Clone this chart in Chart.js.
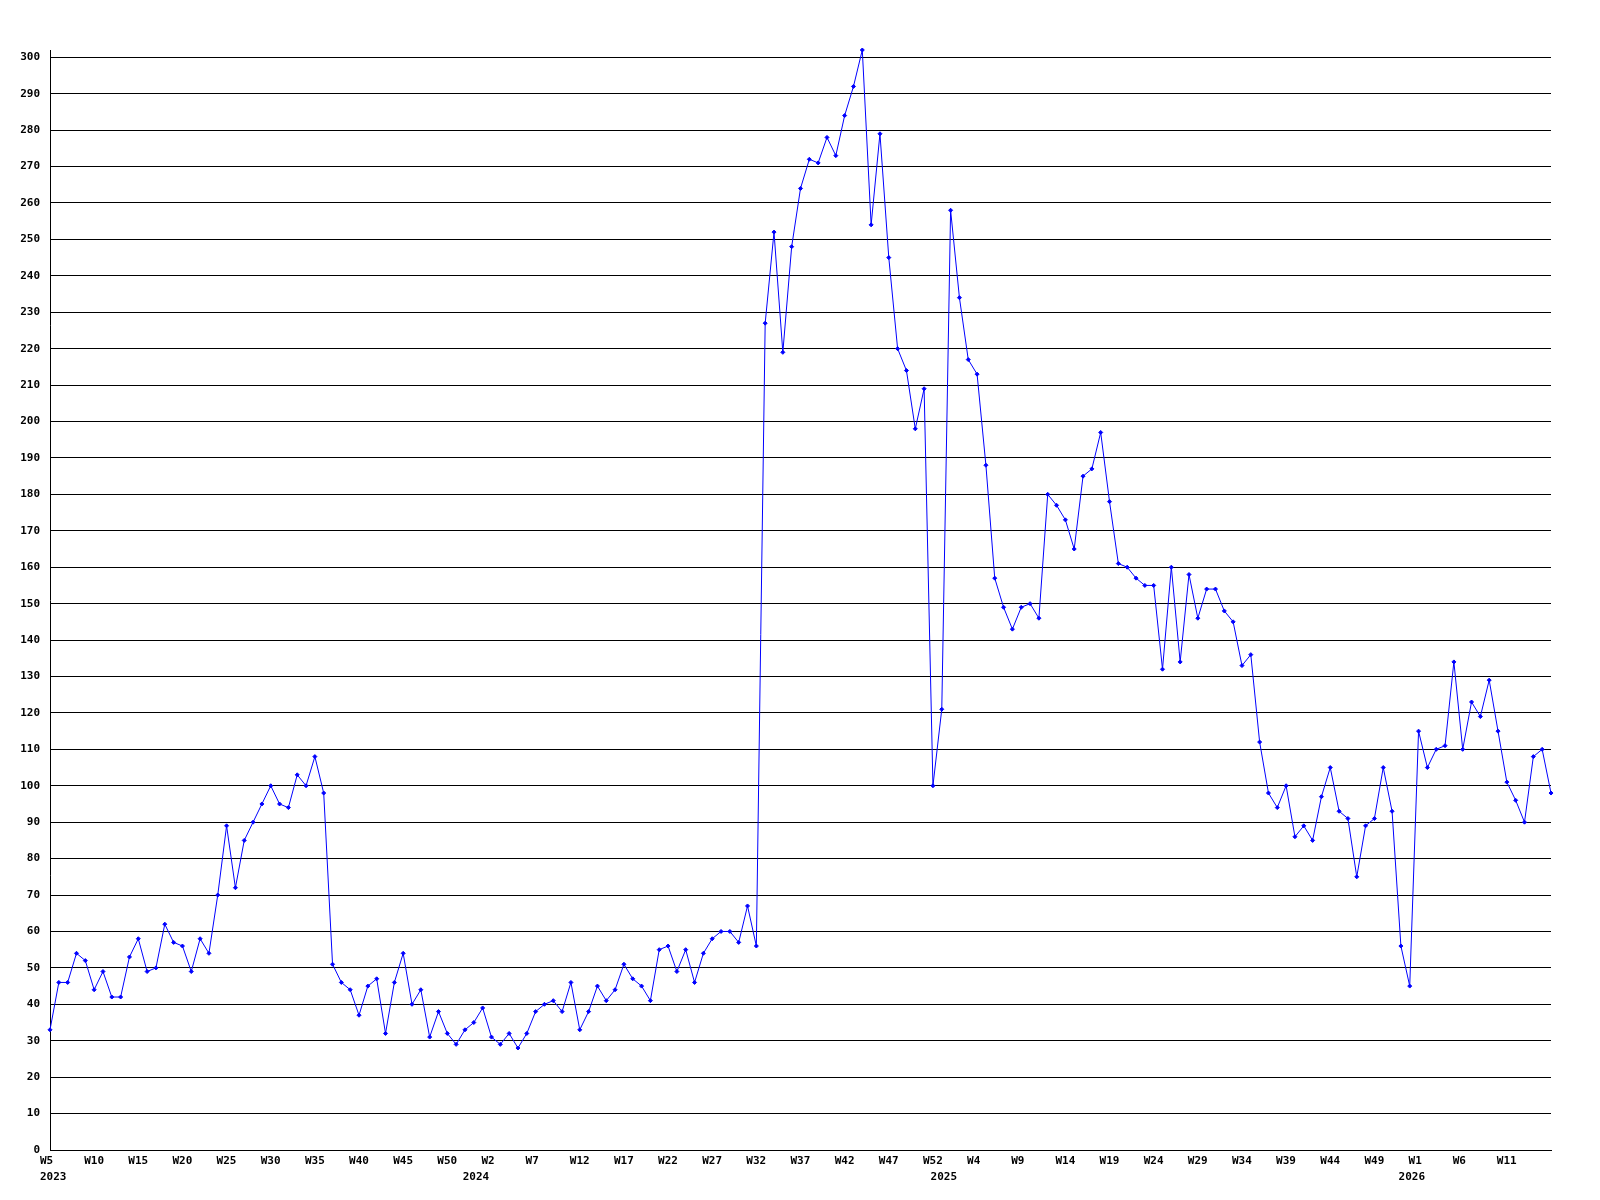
<!DOCTYPE html>
<html>
<head>
<meta charset="utf-8">
<script src="https://cdn.jsdelivr.net/npm/chart.js@4.4.1/dist/chart.umd.min.js"></script>
<style>
  html, body { margin: 0; padding: 0; background: #fff; }
  canvas { display: block; }
</style>
</head>
<body>
<canvas id="grafico" width="1600" height="1200"></canvas>
<script>
// weeks shown per year: [year, first week, last week]
const yearRanges = [[2023, 5, 53], [2024, 1, 53], [2025, 1, 53], [2026, 1, 16]];

// weekly values, one per week from W5 2023 to W16 2026
const values2023 = [33, 46, 46, 54, 52, 44, 49, 42, 42, 53, 58, 49, 50, 62, 57, 56, 49, 58, 54, 70,
    89, 72, 85, 90, 95, 100, 95, 94, 103, 100, 108, 98, 51, 46, 44, 37, 45, 47, 32, 46,
    54, 40, 44, 31, 38, 32, 29, 33, 35];
const values2024 = [39, 31, 29, 32, 28, 32, 38, 40, 41, 38, 46, 33, 38, 45, 41, 44, 51, 47, 45, 41,
    55, 56, 49, 55, 46, 54, 58, 60, 60, 57, 67, 56, 227, 252, 219, 248, 264, 272, 271, 278,
    273, 284, 292, 302, 254, 279, 245, 220, 214, 198, 209, 100, 121];
const values2025 = [258, 234, 217, 213, 188, 157, 149, 143, 149, 150, 146, 180, 177, 173, 165, 185, 187, 197, 178, 161,
    160, 157, 155, 155, 132, 160, 134, 158, 146, 154, 154, 148, 145, 133, 136, 112, 98, 94, 100, 86,
    89, 85, 97, 105, 93, 91, 75, 89, 91, 105, 93, 56, 45];
const values2026 = [115, 105, 110, 111, 134, 110, 123, 119, 129, 115, 101, 96, 90, 108, 110, 98];

const yMax = 302;      // axis top = highest week
const yTickMax = 300;  // last labelled gridline
const yStep = 10;
const labelEvery = 5;

const weeks = [];
const years = [];
yearRanges.forEach(([y, first, last]) => {
    for (let w = first; w <= last; w++) {
        weeks.push('W' + w);
        years.push(y);
    }
});
const values = values2023.concat(values2024, values2025, values2026);

const fonte = { family: '"DejaVu Sans Mono", "Liberation Mono", monospace', size: 11, weight: 'bold' };

// year row under the week labels
const anosPlugin = {
    id: 'anos',
    afterDraw(chart) {
        const ctx = chart.ctx;
        const xs = chart.scales.x;
        ctx.save();
        ctx.font = 'bold 11px "DejaVu Sans Mono", "Liberation Mono", monospace';
        ctx.fillStyle = '#000';
        ctx.textAlign = 'left';
        ctx.textBaseline = 'middle';
        years.forEach((y, i) => {
            if (i > 0 && years[i - 1] === y) return;
            const px = xs.getPixelForValue(i);
            ctx.fillText(String(y), i === 0 ? px - 10 : px - 20, chart.chartArea.bottom + 27);
        });
        ctx.restore();
    }
};

const ctx = document.getElementById('grafico').getContext('2d');
new Chart(ctx, {
    type: 'line',
    data: {
        labels: weeks,
        datasets: [{
            data: values,
            borderColor: '#0000ff',
            backgroundColor: '#0000ff',
            borderWidth: 1,
            tension: 0,
            fill: false,
            pointStyle: 'rectRot',
            pointRadius: 2,
            pointBorderWidth: 1,
            clip: 6
        }]
    },
    options: {
        responsive: false,
        animation: false,
        devicePixelRatio: 1,
        layout: { padding: { top: 50, right: 49, left: 0, bottom: 0 } },
        plugins: { legend: { display: false }, tooltip: { enabled: false } },
        scales: {
            x: {
                offset: false,
                grid: { display: false, drawTicks: false },
                border: { display: true, color: '#000', width: 1 },
                ticks: {
                    autoSkip: false,
                    maxRotation: 0,
                    minRotation: 0,
                    align: 'start',
                    labelOffset: -10,
                    padding: 5,
                    color: '#000',
                    font: fonte,
                    callback: (v, i) => (i % labelEvery === 0 && i < weeks.length - 1 ? weeks[i] : '')
                },
                afterFit: s => { s.height = 50; }
            },
            y: {
                min: 0,
                max: yMax,
                grid: { color: '#000', lineWidth: 1, drawTicks: false },
                border: { display: true, color: '#000', width: 1 },
                ticks: { padding: 10, color: '#000', font: fonte },
                afterBuildTicks: s => {
                    const t = [];
                    for (let v = 0; v <= yTickMax; v += yStep) t.push({ value: v });
                    s.ticks = t;
                },
                afterFit: s => { s.width = 50; }
            }
        }
    },
    plugins: [anosPlugin]
});
</script>
</body>
</html>
